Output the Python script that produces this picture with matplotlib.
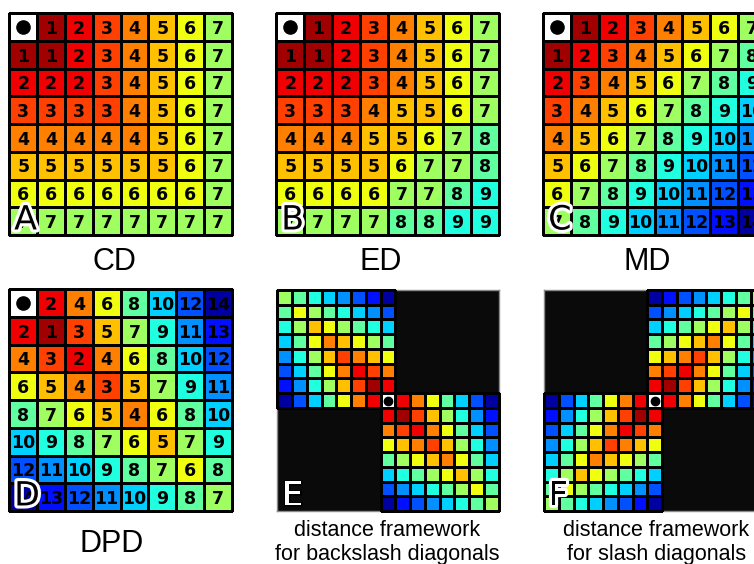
"""Distance frameworks on an 8x8 board: CD, ED, MD, DPD and the diagonal frameworks."""
import matplotlib
matplotlib.use('Agg')
import matplotlib.pyplot as plt
import matplotlib.patheffects as pe
from matplotlib.colors import ListedColormap, BoundaryNorm
import numpy as np

n = np.nan

cd_vals = [
    [0, 1, 2, 3, 4, 5, 6, 7],
    [1, 1, 2, 3, 4, 5, 6, 7],
    [2, 2, 2, 3, 4, 5, 6, 7],
    [3, 3, 3, 3, 4, 5, 6, 7],
    [4, 4, 4, 4, 4, 5, 6, 7],
    [5, 5, 5, 5, 5, 5, 6, 7],
    [6, 6, 6, 6, 6, 6, 6, 7],
    [7, 7, 7, 7, 7, 7, 7, 7],
]

ed_vals = [
    [0, 1, 2, 3, 4, 5, 6, 7],
    [1, 1, 2, 3, 4, 5, 6, 7],
    [2, 2, 2, 3, 4, 5, 6, 7],
    [3, 3, 3, 4, 5, 5, 6, 7],
    [4, 4, 4, 5, 5, 6, 7, 8],
    [5, 5, 5, 5, 6, 7, 7, 8],
    [6, 6, 6, 6, 7, 7, 8, 9],
    [7, 7, 7, 7, 8, 8, 9, 9],
]

md_vals = [
    [0, 1, 2, 3, 4, 5, 6, 7],
    [1, 2, 3, 4, 5, 6, 7, 8],
    [2, 3, 4, 5, 6, 7, 8, 9],
    [3, 4, 5, 6, 7, 8, 9, 10],
    [4, 5, 6, 7, 8, 9, 10, 11],
    [5, 6, 7, 8, 9, 10, 11, 12],
    [6, 7, 8, 9, 10, 11, 12, 13],
    [7, 8, 9, 10, 11, 12, 13, 14],
]

dpd_vals = [
    [0, 2, 4, 6, 8, 10, 12, 14],
    [2, 1, 3, 5, 7, 9, 11, 13],
    [4, 3, 2, 4, 6, 8, 10, 12],
    [6, 5, 4, 3, 5, 7, 9, 11],
    [8, 7, 6, 5, 4, 6, 8, 10],
    [10, 9, 8, 7, 6, 5, 7, 9],
    [12, 11, 10, 9, 8, 7, 6, 8],
    [14, 13, 12, 11, 10, 9, 8, 7],
]

backslash_vals = [
    [7, 8, 9, 10, 11, 12, 13, 14, n, n, n, n, n, n, n],
    [8, 6, 7, 8, 9, 10, 11, 12, n, n, n, n, n, n, n],
    [9, 7, 5, 6, 7, 8, 9, 10, n, n, n, n, n, n, n],
    [10, 8, 6, 4, 5, 6, 7, 8, n, n, n, n, n, n, n],
    [11, 9, 7, 5, 3, 4, 5, 6, n, n, n, n, n, n, n],
    [12, 10, 8, 6, 4, 2, 3, 4, n, n, n, n, n, n, n],
    [13, 11, 9, 7, 5, 3, 1, 2, n, n, n, n, n, n, n],
    [14, 12, 10, 8, 6, 4, 2, 0, 2, 4, 6, 8, 10, 12, 14],
    [n, n, n, n, n, n, n, 2, 1, 3, 5, 7, 9, 11, 13],
    [n, n, n, n, n, n, n, 4, 3, 2, 4, 6, 8, 10, 12],
    [n, n, n, n, n, n, n, 6, 5, 4, 3, 5, 7, 9, 11],
    [n, n, n, n, n, n, n, 8, 7, 6, 5, 4, 6, 8, 10],
    [n, n, n, n, n, n, n, 10, 9, 8, 7, 6, 5, 7, 9],
    [n, n, n, n, n, n, n, 12, 11, 10, 9, 8, 7, 6, 8],
    [n, n, n, n, n, n, n, 14, 13, 12, 11, 10, 9, 8, 7],
]

slash_vals = [
    [n, n, n, n, n, n, n, 14, 13, 12, 11, 10, 9, 8, 7],
    [n, n, n, n, n, n, n, 12, 11, 10, 9, 8, 7, 6, 8],
    [n, n, n, n, n, n, n, 10, 9, 8, 7, 6, 5, 7, 9],
    [n, n, n, n, n, n, n, 8, 7, 6, 5, 4, 6, 8, 10],
    [n, n, n, n, n, n, n, 6, 5, 4, 3, 5, 7, 9, 11],
    [n, n, n, n, n, n, n, 4, 3, 2, 4, 6, 8, 10, 12],
    [n, n, n, n, n, n, n, 2, 1, 3, 5, 7, 9, 11, 13],
    [14, 12, 10, 8, 6, 4, 2, 0, 2, 4, 6, 8, 10, 12, 14],
    [13, 11, 9, 7, 5, 3, 1, 2, n, n, n, n, n, n, n],
    [12, 10, 8, 6, 4, 2, 3, 4, n, n, n, n, n, n, n],
    [11, 9, 7, 5, 3, 4, 5, 6, n, n, n, n, n, n, n],
    [10, 8, 6, 4, 5, 6, 7, 8, n, n, n, n, n, n, n],
    [9, 7, 5, 6, 7, 8, 9, 10, n, n, n, n, n, n, n],
    [8, 6, 7, 8, 9, 10, 11, 12, n, n, n, n, n, n, n],
    [7, 8, 9, 10, 11, 12, 13, 14, n, n, n, n, n, n, n],
]

# colour per distance level: 0 is the reference square, 1..14 run dark red -> dark blue
level_colors = ['#ffffff', '#a00000', '#f00000', '#ff4000', '#ff8000', '#ffc000',
                '#f0ff10', '#a0ff60', '#60ffa0', '#20ffe0', '#00d0ff', '#0090ff',
                '#0050ff', '#0010ff', '#0000a0']

W, H = 754, 564
LETTER_FX = [pe.withStroke(linewidth=4.5, foreground='white')]

cmap = ListedColormap(level_colors)
cmap.set_bad((0, 0, 0, 0))
norm = BoundaryNorm(np.arange(-0.5, 15.5, 1), cmap.N)


def px_axes(fig, left, top, width, height):
    return fig.add_axes([left / W, 1 - (top + height) / H, width / W, height / H])


def draw_board(ax, vals, numbers=True, dot_ms=9.5, spine_color='black'):
    arr = np.ma.masked_invalid(np.array(vals, dtype=float))
    mask = np.ma.getmaskarray(arr)
    nr, nc = arr.shape
    mesh = ax.pcolormesh(np.arange(nc + 1), np.arange(nr + 1), arr,
                         cmap=cmap, norm=norm, linewidth=0.8)
    edges = [(0, 0, 0, 0) if m else (0, 0, 0, 1) for m in mask.ravel()]
    mesh.set_edgecolor(edges)
    mesh.set_clip_on(False)
    ax.set_facecolor('#0a0a0a')
    ax.set_xlim(0, nc)
    ax.set_ylim(nr, 0)
    ax.set_xticks([])
    ax.set_yticks([])
    for sp in ax.spines.values():
        sp.set_color(spine_color)
        sp.set_linewidth(1.0)
        sp.set_zorder(0.5)
    r0, c0 = np.argwhere(arr.filled(-1) == 0)[0]
    ax.plot(c0 + 0.5, r0 + 0.5, 'o', color='black', ms=dot_ms, zorder=3)
    if numbers:
        for r in range(nr):
            for c in range(nc):
                v = arr[r, c]
                if mask[r, c] or v == 0:
                    continue
                ax.text(c + 0.5, r + 0.56, str(int(v)), ha='center', va='center',
                        fontsize=12.5, fontweight='bold', color='black', zorder=3)


def panel_letter(ax, letter, color='black', fx=LETTER_FX):
    ax.text(0.022, 0.025, letter, transform=ax.transAxes, ha='left', va='baseline',
            fontsize=24, color=color, path_effects=fx, zorder=5)


fig = plt.figure(figsize=(W / 100, H / 100), dpi=100)
fig.patch.set_facecolor('white')

ax_a = px_axes(fig, 9.3, 13.3, 222.4, 221.7)
draw_board(ax_a, cd_vals)
panel_letter(ax_a, 'A')

ax_b = px_axes(fig, 276.3, 13.3, 222.4, 221.7)
draw_board(ax_b, ed_vals)
panel_letter(ax_b, 'B')

ax_c = px_axes(fig, 543.3, 13.3, 222.4, 221.7)
draw_board(ax_c, md_vals)
panel_letter(ax_c, 'C')

ax_d = px_axes(fig, 9.3, 289.3, 222.4, 221.7)
draw_board(ax_d, dpd_vals)
panel_letter(ax_d, 'D')

ax_e = px_axes(fig, 277.3, 290.0, 221.4, 221.0)
draw_board(ax_e, backslash_vals, numbers=False, dot_ms=6, spine_color='#8a8a8a')
panel_letter(ax_e, 'E', color='white', fx=[pe.withStroke(linewidth=2, foreground='black')])

ax_f = px_axes(fig, 544.0, 290.0, 221.4, 221.0)
draw_board(ax_f, slash_vals, numbers=False, dot_ms=6, spine_color='#8a8a8a')
panel_letter(ax_f, 'F')

title_font = dict(family='Liberation Sans', ha='center', va='baseline', color='black')
fig.text(114.5 / W, 1 - 269.5 / H, 'CD', fontsize=22, **title_font)
fig.text(380.5 / W, 1 - 269.5 / H, 'ED', fontsize=22, **title_font)
fig.text(647.5 / W, 1 - 269.5 / H, 'MD', fontsize=22, **title_font)
fig.text(112.0 / W, 1 - 551.5 / H, 'DPD', fontsize=22, **title_font)

fig.text(387.5 / W, 1 - 536 / H, 'distance framework', fontsize=15.5, **title_font)
fig.text(387.5 / W, 1 - 560 / H, 'for backslash diagonals', fontsize=15.5, **title_font)
fig.text(656.5 / W, 1 - 536 / H, 'distance framework', fontsize=15.5, **title_font)
fig.text(656.5 / W, 1 - 560 / H, 'for slash diagonals', fontsize=15.5, **title_font)

fig.savefig('out.png', dpi=100)
